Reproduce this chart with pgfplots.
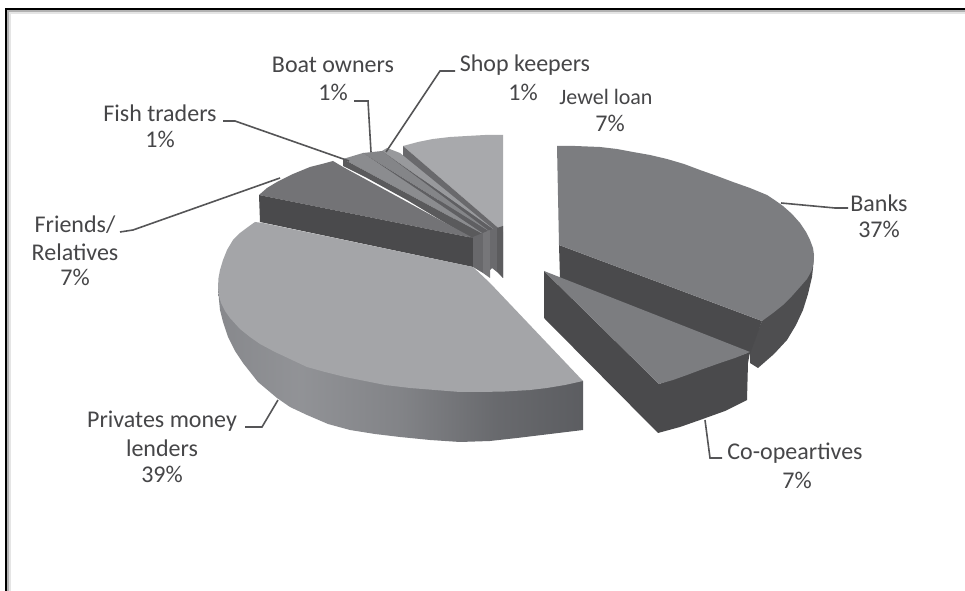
\documentclass[border=0pt]{standalone}
\usepackage{pgfplots}
\pgfplotsset{compat=1.18}
\usepackage{fontspec}
\setmainfont{Carlito}
\definecolor{lbl}{RGB}{70,70,72}
\definecolor{leader}{RGB}{85,85,87}
\definecolor{banktop}{RGB}{124,125,128}
\definecolor{dark}{RGB}{74,74,76}
\definecolor{lendertop}{RGB}{164,165,168}
\definecolor{jeweltop}{RGB}{168,169,172}
\definecolor{friendtop}{RGB}{115,115,118}
% lender side runs light to dark, 25bp..75bp is the bounding box
\pgfdeclarehorizontalshading{lenderside}{100bp}{
  rgb(0bp)=(0.53,0.535,0.55);
  rgb(25bp)=(0.53,0.535,0.55);
  rgb(36bp)=(0.57,0.575,0.59);
  rgb(50bp)=(0.51,0.515,0.53);
  rgb(63bp)=(0.41,0.415,0.43);
  rgb(75bp)=(0.36,0.365,0.38);
  rgb(100bp)=(0.36,0.365,0.38)}
\newcommand{\lab}[3]{\node[align=center,text=lbl,font=\fontsize{18}{22}\selectfont,anchor=center] at (axis cs:#1,#2) {#3};}
\begin{document}
\begin{tikzpicture}
\begin{axis}[
    x=0.75pt, y=0.75pt, y dir=reverse,
    xmin=0, xmax=965, ymin=0, ymax=591,
    hide axis, clip=true,
]
% page and frame (left and top only)
\addplot[draw=none,fill=white] coordinates {(0,0)(965,0)(965,591)(0,591)} -- cycle;
\addplot[black!10,line width=1.5pt] coordinates {(10,591)(10,13)(965,13)};
\addplot[black!30,line width=0.8pt] coordinates {(8,591)(8,11)(965,11)};
\addplot[black,line width=1.5pt] coordinates {(6,591)(6,9)(965,9)};

% jewel loan
\addplot[fill=jeweltop,draw=none] coordinates {(403,146)(418,142)(433,139)(450,137)(467,136)(485,135)(503,135)(503,232)} -- cycle;
\addplot[fill={rgb,255:red,105;green,105;blue,108},draw=none] coordinates {(403,146)(503,232)(503,278)(403,156)} -- cycle;
% shop keepers
\addplot[fill={rgb,255:red,152;green,153;blue,156},draw=none] coordinates {(382,151)(387,148)(400,153)(497,232)} -- cycle;
\addplot[fill={rgb,255:red,95;green,95;blue,98},draw=none] coordinates {(382,151)(497,232)(497,240)(382,156)} -- cycle;
% boat owners
\addplot[fill={rgb,255:red,132;green,133;blue,136},draw=none] coordinates {(363,153)(382,151)(493,234)} -- cycle;
\addplot[fill={rgb,255:red,95;green,95;blue,98},draw=none] coordinates {(363,153)(493,234)(493,244)(363,158)} -- cycle;
% fish traders
\addplot[fill={rgb,255:red,139;green,140;blue,143},draw=none] coordinates {(343,159)(363,153)(488,237)} -- cycle;
\addplot[fill={rgb,255:red,90;green,90;blue,92},draw=none] coordinates {(343,159)(488,237)(488,246)(467,236)(407,200)(367,178)(343,166)} -- cycle;
% friends / relatives
\addplot[fill=friendtop,draw=none] coordinates {(259,195)(267,188)(277,182)(293,174)(310,167)(322,164)(333,161)(343,167)(473,238)} -- cycle;
\addplot[fill=dark,draw=none] coordinates {(259,195)(473,238)(473,267)(260,222)} -- cycle;
% centre pillars
\addplot[fill={rgb,255:red,104;green,104;blue,107},draw=none] coordinates {(473,237)(483,233)(483,273)(473,267)} -- cycle;
\addplot[fill={rgb,255:red,118;green,118;blue,121},draw=none] coordinates {(483,233)(490,230)(490,278)(483,273)} -- cycle;
\addplot[fill={rgb,255:red,106;green,106;blue,109},draw=none] coordinates {(490,230)(497,228)(497,272)(492,268)(490,270)} -- cycle;
\addplot[fill={rgb,255:red,92;green,92;blue,94},draw=none] coordinates {(497,228)(503,226)(503,278)(497,272)} -- cycle;

% money lenders, outer side
\addplot[shading=lenderside,draw=none] coordinates {(218,287)(219,300)(220,310)(223,322)(228,337)(235,351)(243,363)(258,382)(277,398)(290,407)(307,415)(328,424)(350,430)(375,434)(400,437)(430,440)(460,442)(490,441)(517,438)(550,434)(583,430)(583,381)(460,380)(300,350)} -- cycle;
% money lenders, top
\addplot[fill=lendertop,draw=none] coordinates {(255,222)(248,227)(240,233)(233,240)(227,250)(223,260)(220,270)(218.5,278)(218,287)(219,296)(221,303)(225,311)(230,318)(240,329)(250,337)(260,344)(275,352)(290,359)(307,367)(325,372)(345,377)(365,381)(385,385)(410,388)(435,390)(460,392)(480,392)(505,391.5)(530,390)(547,388)(565,385)(583,381)(490,283)(473,267)(263,223)} -- cycle;

% banks
\addplot[fill={rgb,255:red,78;green,78;blue,80},draw=none] coordinates {(814,255)(813,268)(812,277)(808,294)(803,310)(796,325)(787,340)(774,354)(758,368)(750,363)(750,350)(762,321)} -- cycle;
\addplot[fill=dark,draw=none] coordinates {(559,245)(762,321)(750,354)(560,278)} -- cycle;
\addplot[fill=banktop,draw=none] coordinates {(557,146)(575,146)(600,147)(617,149)(633,152)(650,155)(667,159)(684,164)(700,170)(717,176)(733,182)(750,188)(767,195)(776,201)(783,206)(792,214)(800,223)(806,232)(810,240)(813,248)(814,255)(813.5,263)(812,270)(807,279)(800,287)(792,296)(783,305)(773,313)(762,321)(559,245)} -- cycle;
% co-operatives
\addplot[fill=dark,draw=none] coordinates {(544,271)(544,318)(658,433)(680,427)(700,420)(725,411)(747,400)(748,363)(750,352)(659,384)} -- cycle;
\addplot[fill=banktop,draw=none] coordinates {(544,271)(750,352)(735,358)(720,363)(703,369)(687,375)(673,380)(659,384)} -- cycle;

% leaders
\addplot[leader,line width=1.2pt] coordinates {(223,121)(235,121)(349,161)};
\addplot[leader,line width=1.2pt] coordinates {(354,101)(368,101)(371,152)};
\addplot[leader,line width=1.2pt] coordinates {(455,71)(440,71)(386,152)};
\addplot[leader,line width=1.2pt] coordinates {(120,232)(133,230)(280,178)};
\addplot[leader,line width=1.2pt] coordinates {(781,203)(835,208)(848,208)};
\addplot[leader,line width=1.2pt] coordinates {(705,420)(710,458)(722,458)};
\addplot[leader,line width=1.2pt] coordinates {(278,400)(262,427)(245,427)};

% labels
\lab{333}{65}{Boat owners}
\lab{333}{92}{1\%}
\lab{525}{65}{Shop keepers}
\lab{523}{92}{1\%}
\node[text=lbl,font=\fontsize{16.5}{20}\selectfont] at (axis cs:606,97) {Jewel loan};
\lab{610}{123}{7\%}
\lab{160}{113}{Fish traders}
\lab{160}{139}{1\%}
\lab{75}{225}{Friends/}
\lab{75}{252}{Relatives}
\lab{75}{277}{7\%}
\lab{879}{203}{Banks}
\lab{879}{229}{37\%}
\lab{795}{453}{Co-opeartives}
\lab{797}{480}{7\%}
\lab{162}{421}{Privates money}
\lab{162}{448}{lenders}
\lab{162}{474}{39\%}
\end{axis}
\end{tikzpicture}
\end{document}
